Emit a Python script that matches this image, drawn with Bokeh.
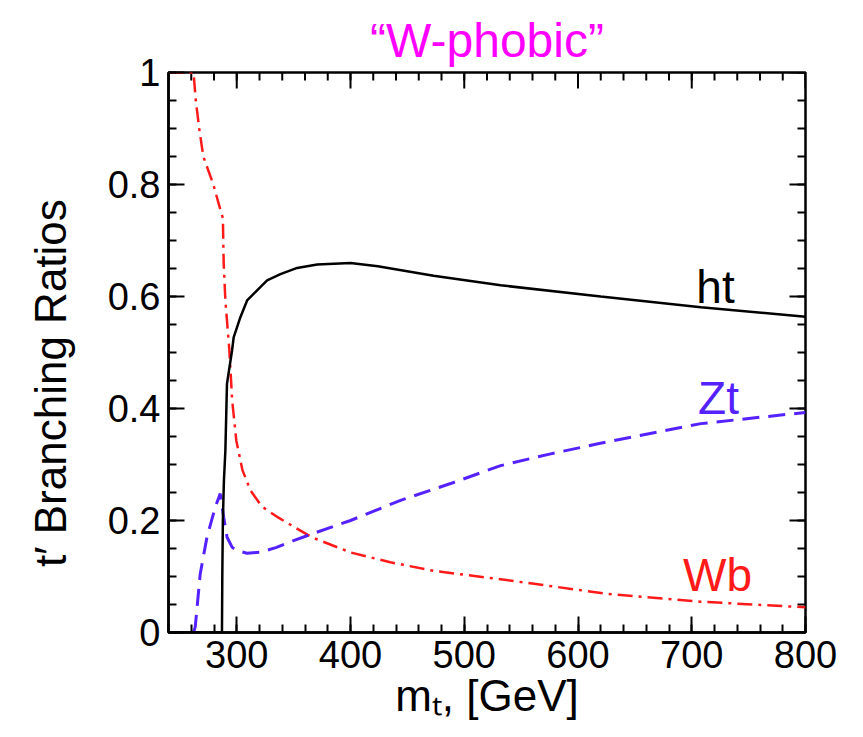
import math
from bokeh.plotting import figure
from bokeh.models import Range1d, FixedTicker, Label
from bokeh.embed import file_html
from bokeh.resources import INLINE

# ---------------- data ----------------
ht_mass = [240, 287, 287.3, 287.8, 288.7, 290, 291.4, 295.9, 297.3, 303.2, 309.1, 317.9,
           326.7, 338.4, 353.1, 370.7, 400, 424, 473, 532, 620, 708, 800]
ht_br = [0, 0, 0.1, 0.2, 0.27, 0.325, 0.444, 0.504, 0.527, 0.563, 0.593, 0.611,
         0.629, 0.64, 0.651, 0.657, 0.66, 0.654, 0.637, 0.62, 0.60, 0.581, 0.564]

zt_mass = [240, 262, 263.5, 267.9, 273.8, 281.1, 285.5, 288.5, 291.5, 296, 300.3,
           309, 320.8, 335, 349.9, 367.5, 400, 444, 488, 532, 576, 617.5, 708, 800]
zt_br = [0, 0, 0.01, 0.105, 0.17, 0.224, 0.248, 0.206, 0.17, 0.152, 0.146,
         0.1416, 0.1434, 0.152, 0.164, 0.177, 0.2, 0.236, 0.266, 0.298, 0.319, 0.337, 0.373, 0.393]

wb_mass = [240, 262, 264, 267, 270.6, 279.4, 285.6, 287.8, 288.5, 290, 293.5, 296,
           299.6, 305, 312, 322, 336.7, 356, 366, 400, 435, 473, 532, 626, 708, 800]
wb_br = [1.0, 1.0, 0.95, 0.90, 0.85, 0.80, 0.755, 0.74, 0.66, 0.593, 0.504, 0.414,
         0.343, 0.29, 0.254, 0.225, 0.205, 0.182, 0.17, 0.143, 0.1255, 0.11, 0.095, 0.069, 0.055, 0.045]

x_ticks = [300, 400, 500, 600, 700, 800]
x_minor_ticks = [240, 260, 280, 300, 320, 340, 360, 380, 400, 420, 440, 460, 480, 500,
                 520, 540, 560, 580, 600, 620, 640, 660, 680, 700, 720, 740, 760, 780, 800]
y_ticks = [0, 0.2, 0.4, 0.6, 0.8, 1.0]
y_tick_labels = ["0", "0.2", "0.4", "0.6", "0.8", "1"]
y_minor_ticks = [0, 0.05, 0.1, 0.15, 0.2, 0.25, 0.3, 0.35, 0.4, 0.45, 0.5, 0.55, 0.6,
                 0.65, 0.7, 0.75, 0.8, 0.85, 0.9, 0.95, 1.0]

X_MIN, X_MAX = 240, 800
Y_MIN, Y_MAX = 0, 1

FONT = "Liberation Sans"
BLUE = "#5522FF"
RED = "#FF1A1A"

p = figure(width=862, height=736, x_range=Range1d(X_MIN, X_MAX), y_range=Range1d(Y_MIN, Y_MAX),
           output_backend="svg", toolbar_location=None,
           min_border_left=168, min_border_right=57, min_border_top=72, min_border_bottom=104)
p.grid.visible = False
p.outline_line_color = "black"
p.outline_line_width = 2.5
p.background_fill_color = "white"
p.border_fill_color = "white"

# title
p.title.text = "\u201cW-phobic\u201d"
p.title.align = "center"
p.title.text_font = FONT
p.title.text_font_size = "48px"
p.title.text_font_style = "normal"
p.title.text_color = "#FF00FF"
p.title.standoff = 12


def style(ax):
    ax.axis_line_width = 2.5
    ax.axis_line_color = "black"
    ax.major_tick_in = 16
    ax.major_tick_out = 0
    ax.minor_tick_in = 8
    ax.minor_tick_out = 0
    ax.major_tick_line_width = 2
    ax.minor_tick_line_width = 2
    ax.major_tick_line_color = "black"
    ax.minor_tick_line_color = "black"
    ax.major_label_text_font = FONT
    ax.major_label_text_color = "black"
    ax.major_label_text_font_size = "38px"
    ax.axis_label_text_font = FONT
    ax.axis_label_text_font_size = "44px"
    ax.axis_label_text_font_style = "normal"
    ax.axis_label_text_color = "black"


xa = p.xaxis[0]
xa.ticker = FixedTicker(ticks=x_ticks, minor_ticks=x_minor_ticks)
style(xa)
xa.major_label_standoff = 8
xa.axis_label = "m\u209c, [GeV]"
xa.axis_label_standoff = 0

ya = p.yaxis[0]
ya.ticker = FixedTicker(ticks=y_ticks, minor_ticks=y_minor_ticks)
style(ya)
ya.major_label_standoff = 8
ya.major_label_overrides = dict(zip(y_ticks, y_tick_labels))
ya.axis_label = "t\u2032 Branching Ratios" + "\u00a0" * 5
ya.axis_label_standoff = 30

# mirrored ticks on the top and right frame edges (half of each dash is clipped by the frame)
p.scatter(x_ticks, [Y_MAX] * len(x_ticks), marker="dash", size=32, angle=math.pi / 2,
          line_color="black", line_width=2)
p.scatter(x_minor_ticks, [Y_MAX] * len(x_minor_ticks), marker="dash", size=16, angle=math.pi / 2,
          line_color="black", line_width=2)
p.scatter([X_MAX] * len(y_ticks), y_ticks, marker="dash", size=32,
          line_color="black", line_width=2)
p.scatter([X_MAX] * len(y_minor_ticks), y_minor_ticks, marker="dash", size=16,
          line_color="black", line_width=2)

# curves
p.line(wb_mass, wb_br, line_color=RED, line_width=2.5, line_dash="15 6 3 6")
p.line(zt_mass, zt_br, line_color=BLUE, line_width=3, line_dash="17 9")
p.line(ht_mass, ht_br, line_color="black", line_width=2.5)

# curve labels
for x, y, t, c in [(704, 0.617, "ht", "black"), (705.6, 0.418, "Zt", BLUE), (692.3, 0.1027, "Wb", RED)]:
    p.add_layout(Label(x=x, y=y, text=t, text_font=FONT, text_font_size="46px",
                       text_color=c, text_baseline="middle", text_align="left"))

open("out.html", "w").write(file_html(p, INLINE))
